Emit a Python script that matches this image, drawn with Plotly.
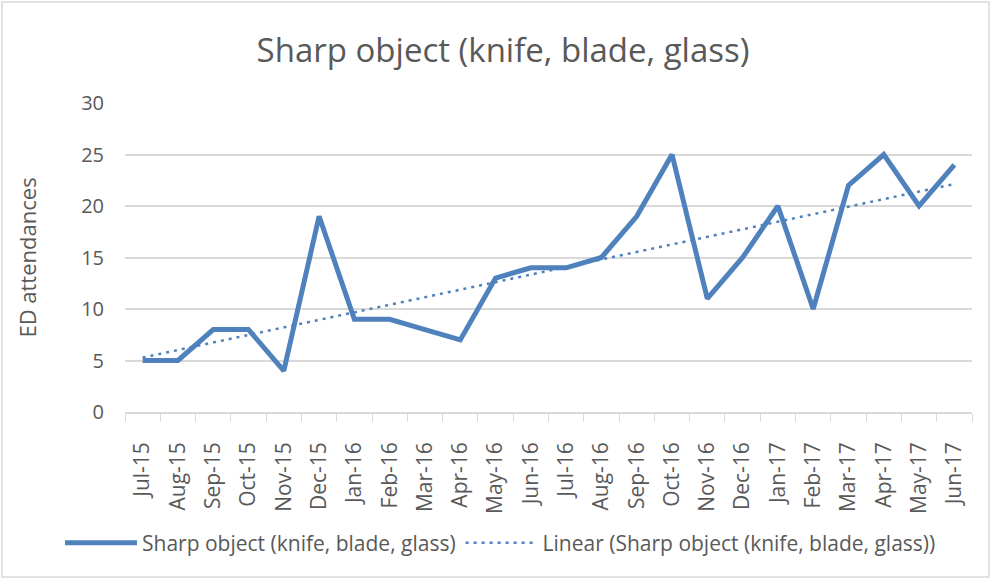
import numpy as np
import plotly.graph_objects as go

months = ["Jul-15", "Aug-15", "Sep-15", "Oct-15", "Nov-15", "Dec-15", "Jan-16", "Feb-16",
          "Mar-16", "Apr-16", "May-16", "Jun-16", "Jul-16", "Aug-16", "Sep-16", "Oct-16",
          "Nov-16", "Dec-16", "Jan-17", "Feb-17", "Mar-17", "Apr-17", "May-17", "Jun-17"]
attendances = [5, 5, 8, 8, 4, 19, 9, 9, 8, 7, 13, 14, 14, 15, 19, 25, 11, 15, 20, 10, 22, 25, 20, 24]
y_ticks = [0, 5, 10, 15, 20, 25, 30]

series_name = "Sharp object (knife, blade, glass)"
idx = np.arange(len(attendances))
slope, intercept = np.polyfit(idx, attendances, 1)
trend = slope * idx + intercept

BLUE = "#4f81bd"
GREY = "#595959"
LIGHT = "#d9d9d9"
FONT = "Open Sans, sans-serif"

fig = go.Figure()
fig.add_trace(go.Scatter(x=months, y=attendances, mode="lines", name=series_name,
                         line=dict(color=BLUE, width=5)))
fig.add_trace(go.Scatter(x=months, y=trend, mode="lines", name="Linear (" + series_name + ")",
                         line=dict(color=BLUE, width=2.5, dash="3px,5px")))

L, R, T, B = 125, 20, 103, 168
W, H = 992, 580
pw, ph = W - L - R, H - T - B


def px_x(p):
    return (p - L) / pw


def px_y(p):
    return (H - B - p) / ph


fig.update_layout(
    width=W, height=H,
    margin=dict(l=L, r=R, t=T, b=B, autoexpand=False),
    paper_bgcolor="white", plot_bgcolor="white",
    font=dict(family=FONT, color=GREY),
    title=dict(text=series_name, x=px_x(503), xref="paper", xanchor="center",
               y=1 - 50 / H, yanchor="middle",
               font=dict(size=33, color=GREY, family=FONT)),
    xaxis=dict(type="category", range=[-0.5, len(months) - 0.5], tickangle=-90,
               tickfont=dict(size=21, color=GREY, family=FONT), automargin=False,
               showgrid=False, showline=True, linecolor=LIGHT, linewidth=1.5,
               ticks="outside", tickson="boundaries", ticklen=8, tickcolor=LIGHT,
               ticklabelstandoff=20, zeroline=False),
    yaxis=dict(range=[0, 30], tickvals=y_ticks, tickfont=dict(size=20, color=GREY, family=FONT),
               showgrid=True, gridcolor=LIGHT, gridwidth=1.5, zeroline=False, automargin=False,
               showline=False, ticks="", ticklen=0, ticklabelstandoff=20,
               title=dict(text="ED attendances", font=dict(size=22, color=GREY, family=FONT),
                          standoff=38)),
    legend=dict(orientation="h", xref="paper", yref="paper",
                x=px_x(60), xanchor="left", y=px_y(543), yanchor="middle",
                font=dict(size=21, color=GREY, family=FONT), itemwidth=72,
                bgcolor="rgba(0,0,0,0)"),
    showlegend=True,
)

fig.add_shape(type="rect", xref="paper", yref="paper",
              x0=px_x(2), x1=px_x(989), y0=px_y(577), y1=px_y(2),
              line=dict(color=LIGHT, width=1.5), fillcolor="rgba(0,0,0,0)", layer="below")

fig.write_html("out.html", config={"displayModeBar": False},
               post_script="document.body.style.margin='0';document.body.style.overflow='hidden';")
